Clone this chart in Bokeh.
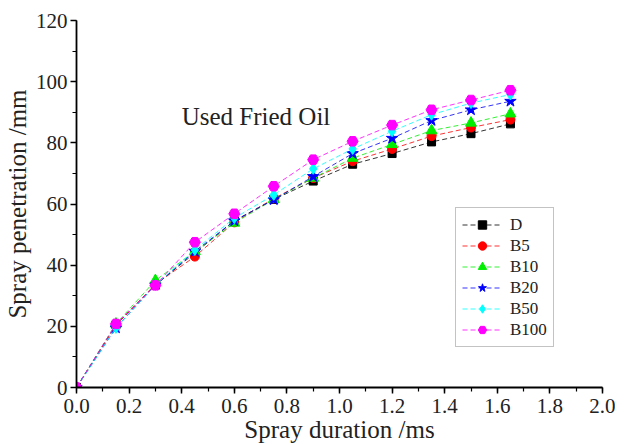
from bokeh.plotting import figure
from bokeh.models import Range1d, FixedTicker, NumeralTickFormatter, Legend, LegendItem, Label
from bokeh.embed import file_html
from bokeh.resources import INLINE

duration = [0, 0.15, 0.3, 0.45, 0.6, 0.75, 0.9, 1.05, 1.2, 1.35, 1.5, 1.65]
D = [0, 20.5, 33.5, 44.0, 54.5, 61.5, 67.5, 73.0, 76.5, 80.3, 83.0, 86.2]
B5 = [0, 20.3, 33.8, 42.8, 54.0, 61.8, 68.5, 74.0, 78.0, 82.2, 85.0, 87.6]
B10 = [0, 20.8, 35.0, 44.5, 53.8, 61.5, 68.5, 75.0, 79.5, 84.0, 86.5, 89.5]
B20 = [0, 19.5, 33.5, 44.5, 54.5, 61.4, 69.0, 76.5, 81.5, 87.3, 90.8, 93.6]
B50 = [0, 19.5, 33.5, 45.0, 55.4, 63.0, 71.5, 78.0, 83.8, 89.2, 93.0, 95.8]
B100 = [0, 20.8, 33.4, 47.5, 56.8, 65.8, 74.5, 80.5, 85.8, 90.8, 94.0, 97.2]
names = ["D", "B5", "B10", "B20", "B50", "B100"]
series = [D, B5, B10, B20, B50, B100]
x_ticks = [0.0, 0.2, 0.4, 0.6, 0.8, 1.0, 1.2, 1.4, 1.6, 1.8, 2.0]
y_ticks = [0, 20, 40, 60, 80, 100, 120]

colors = ["#000000", "#ff0000", "#00ee00", "#0000ff", "#00ffff", "#ff00ff"]
markers = ["square", "circle", "triangle", "star", "diamond", "hex"]
sizes = [8, 9, 11, 12, 11, 11]

FONT = "Liberation Serif"

p = figure(frame_width=526, frame_height=367, output_backend="svg", toolbar_location=None,
           x_range=Range1d(0, 2.0), y_range=Range1d(0, 120),
           min_border_left=74, min_border_right=13, min_border_top=20, min_border_bottom=50)
p.outline_line_color = None
p.xgrid.visible = False
p.ygrid.visible = False
p.background_fill_color = "white"
p.border_fill_color = "white"

for ax in (p.xaxis, p.yaxis):
    ax.axis_line_color = "black"
    ax.axis_line_width = 1.8
    ax.major_tick_line_color = "black"
    ax.minor_tick_line_color = "black"
    ax.major_tick_line_width = 1.5
    ax.minor_tick_line_width = 1.2
    ax.major_tick_out = 6
    ax.major_tick_in = 0
    ax.minor_tick_out = 4
    ax.minor_tick_in = 0
    ax.major_label_text_font = FONT
    ax.major_label_text_font_size = "21px"
    ax.major_label_text_color = "#222222"
    ax.axis_label_text_font = FONT
    ax.axis_label_text_font_style = "normal"
    ax.axis_label_text_color = "#222222"

p.xaxis.axis_label_text_font_size = "25px"
p.yaxis.axis_label_text_font_size = "25px"
p.xaxis.ticker = FixedTicker(ticks=x_ticks, minor_ticks=[i / 10 for i in range(0, 21)])
p.yaxis.ticker = FixedTicker(ticks=y_ticks, minor_ticks=list(range(0, 121, 10)))
p.xaxis.formatter = NumeralTickFormatter(format="0.0")
p.xaxis.axis_label = "Spray duration /ms"
p.yaxis.axis_label = "Spray penetration /mm"
p.xaxis.major_label_standoff = 5
p.xaxis.axis_label_standoff = 0
p.yaxis.major_label_standoff = 3
p.yaxis.axis_label_standoff = 2

items = []
for name, ys, c, m, s in zip(names, series, colors, markers, sizes):
    ln = p.line(duration, ys, line_color=c, line_width=1, line_dash="5 3", line_alpha=0.8)
    sc = p.scatter(duration, ys, marker=m, size=s, fill_color=c, line_color=c)
    items.append(LegendItem(label=name, renderers=[ln, sc]))

legend = Legend(items=items, location=(379, 40))
legend.label_text_font = FONT
legend.label_text_font_size = "17px"
legend.label_text_color = "#222222"
legend.label_height = 21
legend.glyph_height = 21
legend.glyph_width = 40
legend.label_standoff = 8
legend.spacing = 0
legend.padding = 6
legend.margin = 0
legend.border_line_color = "#888888"
legend.border_line_width = 1.5
legend.background_fill_alpha = 1.0
p.add_layout(legend, "center")

p.add_layout(Label(x=0.4, y=88.5, text="Used Fried Oil", text_font=FONT,
                   text_font_size="25px", text_color="#222222", text_baseline="middle"))

open("out.html", "w").write(file_html(p, INLINE))
